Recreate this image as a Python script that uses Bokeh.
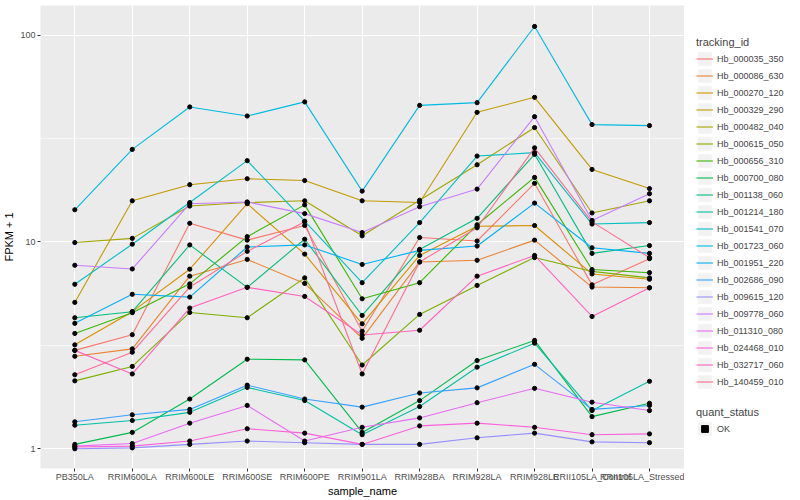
from bokeh.plotting import figure
from bokeh.layouts import row
from bokeh.models import Range1d, FixedTicker, NumeralTickFormatter, Legend, LegendItem
from bokeh.embed import file_html
from bokeh.resources import INLINE

samples = ["PB350LA", "RRIM600LA", "RRIM600LE", "RRIM600SE", "RRIM600PE", "RRIM901LA",
           "RRIM928BA", "RRIM928LA", "RRIM928LE", "RRII105LA_Control", "RRII105LA_Stressed"]

tracking_ids = ["Hb_000035_350", "Hb_000086_630", "Hb_000270_120", "Hb_000329_290",
                "Hb_000482_040", "Hb_000615_050", "Hb_000656_310", "Hb_000700_080",
                "Hb_001138_060", "Hb_001214_180", "Hb_001541_070", "Hb_001723_060",
                "Hb_001951_220", "Hb_002686_090", "Hb_009615_120", "Hb_009778_060",
                "Hb_011310_080", "Hb_024468_010", "Hb_032717_060", "Hb_140459_010"]

colors = ["#F8766D", "#EA8331", "#D89000", "#C09B00", "#A3A500", "#7CAE00", "#39B600",
          "#00BB4E", "#00BF7D", "#00C1A3", "#00BFC4", "#00BAE0", "#00B0F6", "#35A2FF",
          "#9590FF", "#C77CFF", "#E76BF3", "#FA62DB", "#FF62BC", "#FF6C91"]

# FPKM + 1 per tracking_id, in the order of samples
hb_000035_350 = [2.99, 3.56, 12.3, 10.2, 12.0, 3.7, 10.5, 10.1, 19.2, 6.2, 8.3]
hb_000086_630 = [2.80, 3.04, 6.83, 8.23, 6.3, 3.42, 8.0, 8.15, 10.2, 6.05, 6.0]
hb_000270_120 = [3.18, 4.6, 7.38, 15.3, 8.73, 4.02, 8.6, 11.9, 12.0, 7.0, 6.6]
hb_000329_290 = [5.1, 15.8, 18.9, 20.2, 19.8, 15.8, 15.5, 42.3, 50.0, 22.4, 18.1]
hb_000482_040 = [9.93, 10.4, 14.9, 15.5, 15.8, 10.7, 15.9, 23.6, 35.7, 13.8, 15.8]
hb_000615_050 = [2.13, 2.50, 4.56, 4.30, 6.7, 2.54, 4.46, 6.16, 8.4, 7.2, 6.7]
hb_000656_310 = [3.61, 4.55, 6.27, 10.6, 15.1, 5.31, 6.35, 12.1, 20.5, 7.35, 7.1]
hb_000700_080 = [1.05, 1.20, 1.74, 2.71, 2.69, 1.20, 1.71, 2.67, 3.34, 1.43, 1.66]
hb_001138_060 = [4.30, 4.6, 9.67, 6.03, 10.3, 4.41, 9.2, 13.0, 26.5, 8.8, 9.6]
hb_001214_180 = [1.30, 1.37, 1.50, 1.98, 1.71, 1.17, 1.60, 2.48, 3.24, 1.53, 2.12]
hb_001541_070 = [6.24, 9.75, 15.5, 24.7, 12.6, 6.35, 12.4, 26.0, 27.0, 12.2, 12.4]
hb_001723_060 = [14.3, 28.0, 44.9, 40.6, 47.5, 17.6, 45.7, 47.1, 110.0, 36.9, 36.5]
hb_001951_220 = [4.04, 5.58, 5.41, 9.45, 9.67, 7.78, 9.1, 9.55, 15.4, 9.37, 8.8]
hb_002686_090 = [1.35, 1.46, 1.55, 2.03, 1.74, 1.59, 1.86, 1.97, 2.56, 1.55, 1.62]
hb_009615_120 = [1.00, 1.01, 1.05, 1.09, 1.07, 1.05, 1.05, 1.13, 1.19, 1.08, 1.07]
hb_009778_060 = [7.71, 7.40, 15.3, 15.6, 13.7, 11.1, 14.8, 18.0, 40.3, 12.7, 17.1]
hb_011310_080 = [1.03, 1.06, 1.33, 1.62, 1.09, 1.27, 1.41, 1.67, 1.96, 1.68, 1.53]
hb_024468_010 = [1.02, 1.03, 1.09, 1.25, 1.19, 1.05, 1.29, 1.33, 1.27, 1.17, 1.18]
hb_032717_060 = [2.99, 2.30, 4.79, 6.03, 5.45, 3.55, 3.74, 6.83, 8.6, 4.36, 6.0]
hb_140459_010 = [2.28, 2.93, 6.05, 9.0, 12.5, 2.30, 8.0, 11.7, 28.5, 12.5, 8.4]

series = [hb_000035_350, hb_000086_630, hb_000270_120, hb_000329_290, hb_000482_040,
          hb_000615_050, hb_000656_310, hb_000700_080, hb_001138_060, hb_001214_180,
          hb_001541_070, hb_001723_060, hb_001951_220, hb_002686_090, hb_009615_120,
          hb_009778_060, hb_011310_080, hb_024468_010, hb_032717_060, hb_140459_010]

quant_status = ["OK"]

FONT = "Liberation Sans"
xpos = list(range(len(samples)))
all_x = [x for vals in series for x in xpos]
all_y = [v for vals in series for v in vals]

# ---------------- main panel ----------------
p = figure(width=684, height=500, output_backend="svg", toolbar_location=None,
           y_axis_type="log",
           x_range=Range1d(-0.597, 10.609), y_range=Range1d(0.803, 138.9),
           min_border_left=40, min_border_right=0, min_border_top=5, min_border_bottom=32)
p.outline_line_color = None
p.background_fill_color = "#EBEBEB"
p.border_fill_color = "white"

p.xaxis.ticker = FixedTicker(ticks=xpos)
p.xaxis.major_label_overrides = {i: s for i, s in enumerate(samples)}
p.yaxis.ticker = FixedTicker(ticks=[1, 10, 100], minor_ticks=[10 ** 0.5, 10 ** 1.5])
p.yaxis.formatter = NumeralTickFormatter(format="0")
for ax in (p.xaxis, p.yaxis):
    ax.axis_line_color = None
    ax.major_tick_in = 0
    ax.major_tick_out = 3
    ax.major_tick_line_color = "#333333"
    ax.minor_tick_in = 0
    ax.minor_tick_out = 0
    ax.major_label_text_font = FONT
    ax.major_label_text_font_size = "9px"
    ax.major_label_text_color = "#4D4D4D"
    ax.axis_label_text_font = FONT
    ax.axis_label_text_font_size = "11px"
    ax.axis_label_text_font_style = "normal"
    ax.axis_label_text_color = "black"
p.xaxis.major_label_standoff = 0
p.xaxis.axis_label_standoff = 0
p.yaxis.major_label_standoff = 2
p.yaxis.axis_label_standoff = 2
p.xaxis.axis_label = "sample_name"
p.yaxis.axis_label = "FPKM + 1"

p.xgrid.grid_line_color = "white"
p.xgrid.grid_line_width = 1.1
p.ygrid.grid_line_color = "white"
p.ygrid.grid_line_width = 1.1
p.ygrid.minor_grid_line_color = "white"
p.ygrid.minor_grid_line_width = 0.55

for vals, col in zip(series, colors):
    p.line(xpos, vals, line_color=col, line_width=1.1)
p.scatter(all_x, all_y, size=4.2, marker="circle", fill_color="black", line_color="black")

# ---------------- legend panel ----------------
lp = figure(width=116, height=500, output_backend="svg", toolbar_location=None,
            x_axis_location=None, y_axis_location=None, y_axis_type="log",
            x_range=Range1d(-0.6, 10.6), y_range=Range1d(0.8, 140),
            min_border=0)
lp.outline_line_color = None
lp.background_fill_color = "white"
lp.border_fill_color = "white"
lp.grid.visible = False

key_bg = lp.rect(x=xpos, y=series[0], width=1, height=1, fill_color="#F2F2F2",
                 line_color=None, visible=False)
leg_lines = [lp.line(xpos, vals, line_color=col, line_width=1.1, visible=False)
             for vals, col in zip(series, colors)]
leg_pts = lp.scatter(all_x, all_y, size=4.2, marker="square", fill_color="black",
                     line_color="black", visible=False)

items = [LegendItem(label=tid, renderers=[key_bg, r]) for tid, r in zip(tracking_ids, leg_lines)]
leg1 = Legend(items=items, title="tracking_id", location=(12, 78))
leg2 = Legend(items=[LegendItem(label=quant_status[0], renderers=[key_bg, leg_pts])],
              title="quant_status", location=(12, 31))
for lg in (leg1, leg2):
    lg.padding = 0
    lg.margin = 0
    lg.spacing = 0
    lg.glyph_width = 17
    lg.glyph_height = 17
    lg.label_height = 17
    lg.label_standoff = 4
    lg.title_standoff = 2
    lg.border_line_color = None
    lg.background_fill_alpha = 0
    lg.title_text_font = FONT
    lg.title_text_font_size = "11px"
    lg.title_text_font_style = "normal"
    lg.label_text_font = FONT
    lg.label_text_font_size = "9px"
    lg.label_text_baseline = "middle"
    lp.add_layout(lg, "center")

layout = row(p, lp)
open("out.html", "w").write(file_html(layout, INLINE))
